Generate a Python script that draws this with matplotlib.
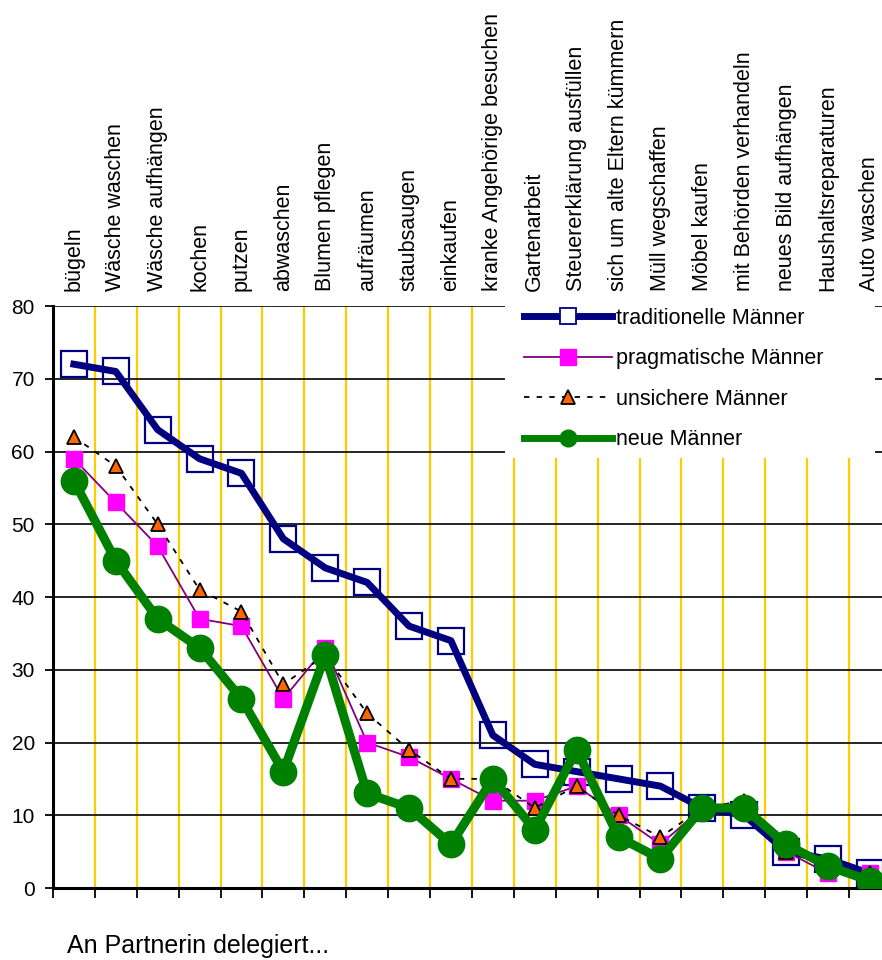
import matplotlib
matplotlib.use("Agg")
import matplotlib.pyplot as plt
from matplotlib.lines import Line2D
from matplotlib.patches import Rectangle

plt.rcParams["font.family"] = ["Liberation Sans", "DejaVu Sans"]

# Aufgaben (x-Kategorien)
tasks = [
    "bügeln", "Wäsche waschen", "Wäsche aufhängen", "kochen", "putzen",
    "abwaschen", "Blumen pflegen", "aufräumen", "staubsaugen", "einkaufen",
    "kranke Angehörige besuchen", "Gartenarbeit", "Steuererklärung ausfüllen",
    "sich um alte Eltern kümmern", "Müll wegschaffen", "Möbel kaufen",
    "mit Behörden verhandeln", "neues Bild aufhängen", "Haushaltsreparaturen",
    "Auto waschen",
]

traditionelle = [72, 71, 63, 59, 57, 48, 44, 42, 36, 34, 21, 17, 16, 15, 14, 11, 10, 5, 4, 2]
pragmatische = [59, 53, 47, 37, 36, 26, 33, 20, 18, 15, 12, 12, 14, 10, 6, 11, 11, 5, 2, 2]
unsichere = [62, 58, 50, 41, 38, 28, 32, 24, 19, 15, 15, 11, 14, 10, 7, 11, 12, 5, 3, 2]
neue = [56, 45, 37, 33, 26, 16, 32, 13, 11, 6, 15, 8, 19, 7, 4, 11, 11, 6, 3, 1]

series_names = ["traditionelle Männer", "pragmatische Männer", "unsichere Männer", "neue Männer"]
y_ticks = [0, 10, 20, 30, 40, 50, 60, 70, 80]

W, H = 882, 960
fig = plt.figure(figsize=(W / 100, H / 100), dpi=100)
# axes ragt rechts über den Bildrand hinaus (wie im Original abgeschnitten)
ax = fig.add_axes([52.9 / W, 1 - 888 / H, 838 / W, 582 / H])

x = list(range(len(tasks)))
ax.set_xlim(-0.5, len(tasks) - 0.5)
ax.set_ylim(0, 80)

# Gitter
for yt in y_ticks[1:]:
    ax.axhline(yt, color="black", lw=1.2, zorder=1)
for i in range(len(tasks) - 1):
    ax.axvline(i + 0.5, color="#FFCC00", lw=1.6, zorder=0.5)

ax.plot(x, traditionelle, color="#000080", lw=5, solid_joinstyle="round",
        marker="s", ms=19, mfc="none", mec="#000080", mew=1.6, zorder=3)
ax.plot(x, pragmatische, color="#800080", lw=1.3,
        marker="s", ms=11, mfc="#FF00FF", mec="#FF00FF", zorder=4)
ax.plot(x, unsichere, color="black", lw=1.3, dashes=[3, 4],
        marker="^", ms=10, mfc="#FF6600", mec="black", mew=1.3, zorder=5)
ax.plot(x, neue, color="#008000", lw=6.5, solid_joinstyle="round",
        marker="o", ms=19, mfc="#008000", mec="#008000", zorder=6)

# Kategorien oben, senkrecht
for i, t in enumerate(tasks):
    ax.annotate(t, xy=(i, 80), xytext=(0, 11), textcoords="offset points",
                rotation=90, ha="center", va="bottom", fontsize=15.5,
                annotation_clip=False)

ax.set_yticks(y_ticks)
ax.set_yticklabels([str(v) for v in y_ticks], fontsize=15)
ax.set_xticks([i - 0.5 for i in range(len(tasks) + 1)])
ax.set_xticklabels([])
ax.tick_params(axis="y", direction="out", length=6, width=1.3, pad=7)
ax.tick_params(axis="x", direction="out", length=7, width=1.3)

for side in ["top", "right"]:
    ax.spines[side].set_visible(False)
ax.spines["left"].set_linewidth(2.2)
ax.spines["bottom"].set_linewidth(2.2)

# weißer Hintergrund der Legende
fig.patches.append(Rectangle((505 / W, 1 - 458 / H), 370 / W, 161 / H,
                             transform=fig.transFigure, facecolor="white",
                             edgecolor="none", zorder=5))

handles = [
    Line2D([], [], color="#000080", lw=5, marker="s", ms=11, mfc="white", mec="#000080", mew=1.3),
    Line2D([], [], color="#800080", lw=1.3, marker="s", ms=11, mfc="#FF00FF", mec="#FF00FF"),
    Line2D([], [], color="black", lw=1.3, dashes=[3, 4], marker="^", ms=10, mfc="#FF6600", mec="black", mew=1.3),
    Line2D([], [], color="#008000", lw=5, marker="o", ms=12, mfc="#008000", mec="#008000"),
]
leg = fig.legend(handles, series_names, loc="upper left",
                 bbox_to_anchor=(515 / W, 1 - 299 / H), fontsize=15.5,
                 frameon=False, handlelength=4.1, handletextpad=0.2,
                 labelspacing=0.91, borderpad=0.4, borderaxespad=0)
leg.set_zorder(10)

fig.text(67 / W, 1 - 953 / H, "An Partnerin delegiert...", fontsize=18,
         ha="left", va="baseline")

fig.savefig("out.png", dpi=100)
